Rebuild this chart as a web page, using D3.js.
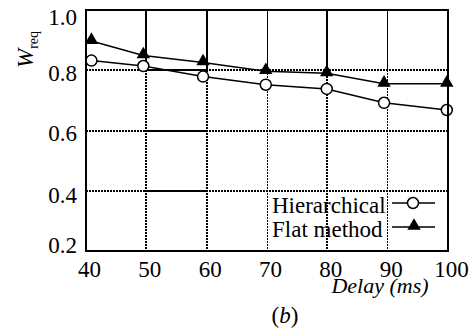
<!DOCTYPE html>
<html>
<head>
<meta charset="utf-8">
<script src="https://cdn.jsdelivr.net/npm/d3@7"></script>
<style>
  body { margin: 0; background: #fff; }
  svg { display: block; }
  svg text { font-family: "Liberation Serif", "Times New Roman", Times, "DejaVu Serif", serif !important; fill: #000; }
</style>
</head>
<body>
<svg id="chart" width="473" height="331"></svg>
<script>
// values
const delays = [40, 50, 60, 70, 80, 90, 100];
// marker positions as drawn (slightly off the ticks in the original)
const markerDelays = [40.9, 49.5, 59.4, 69.8, 79.9, 89.4, 99.8];
const hierarchical = [0.832, 0.814, 0.779, 0.752, 0.738, 0.692, 0.668];
const flatMethod = [0.897, 0.849, 0.826, 0.797, 0.790, 0.755, 0.755];
const yTicks = [0.2, 0.4, 0.6, 0.8, 1.0];
const gridY = [0.4, 0.6, 0.8];
const gridX = [50, 60, 70, 80, 90];
const seriesNames = ["Hierarchical", "Flat method"];

const plotLeft = 86, plotRight = 448, plotTop = 10, plotBottom = 251;
const serif = "'Liberation Serif', 'Times New Roman', Times, 'DejaVu Serif', serif";

const svg = d3.select("#chart").attr("font-family", serif);

const x = d3.scaleLinear().domain([40, 100]).range([plotLeft, plotRight]);
const y = d3.scaleLinear().domain([0.2, 1.0]).range([plotBottom, plotTop]);

const grid = svg.append("g").attr("shape-rendering", "crispEdges");

// vertical grid: solid above 0.8, dotted below
grid.selectAll(".vtop")
    .data(gridX)
    .enter().append("line")
    .attr("x1", d => x(d)).attr("x2", d => x(d))
    .attr("y1", y(1.0)).attr("y2", y(0.8))
    .attr("stroke", "#000")
    .attr("stroke-width", d => (d === 70 || d === 90) ? 1 : 2);

grid.selectAll(".vbot")
    .data(gridX)
    .enter().append("line")
    .attr("x1", d => x(d)).attr("x2", d => x(d))
    .attr("y1", y(0.8)).attr("y2", y(0.2))
    .attr("stroke", "#000")
    .attr("stroke-width", d => (d === 70 || d === 90) ? 1 : 2)
    .attr("stroke-dasharray", "2,1");

grid.selectAll(".h")
    .data(gridY)
    .enter().append("line")
    .attr("x1", plotLeft).attr("x2", plotRight)
    .attr("y1", d => y(d)).attr("y2", d => y(d))
    .attr("stroke", "#000")
    .attr("stroke-width", 2)
    .attr("stroke-dasharray", "2,1");

// solid pieces between 50 and 60
grid.selectAll(".hs")
    .data(gridY)
    .enter().append("line")
    .attr("x1", x(50)).attr("x2", x(60))
    .attr("y1", d => y(d)).attr("y2", d => y(d))
    .attr("stroke", "#000")
    .attr("stroke-width", 2);

// series lines
const line = d3.line()
    .x((d, i) => x(markerDelays[i]))
    .y(d => y(d));

svg.append("path")
    .datum(hierarchical)
    .attr("d", line)
    .attr("fill", "none")
    .attr("stroke", "#000")
    .attr("stroke-width", 1.5);

svg.append("path")
    .datum(flatMethod)
    .attr("d", line)
    .attr("fill", "none")
    .attr("stroke", "#000")
    .attr("stroke-width", 1.5);

const tri = d3.symbol().type(d3.symbolTriangle).size(78);

svg.selectAll(".tri")
    .data(flatMethod)
    .enter().append("path")
    .attr("d", tri)
    .attr("transform", (d, i) => `translate(${x(markerDelays[i])},${y(d) - 1})`)
    .attr("fill", "#000");

svg.selectAll(".circ")
    .data(hierarchical)
    .enter().append("circle")
    .attr("cx", (d, i) => x(markerDelays[i]))
    .attr("cy", d => y(d))
    .attr("r", 5.5)
    .attr("fill", "#fff")
    .attr("stroke", "#000")
    .attr("stroke-width", 1.5);

// frame
svg.append("rect")
    .attr("x", plotLeft).attr("y", plotTop)
    .attr("width", plotRight - plotLeft).attr("height", plotBottom - plotTop)
    .attr("fill", "none")
    .attr("stroke", "#000")
    .attr("stroke-width", 2.5)
    .attr("shape-rendering", "crispEdges");

// axes (labels only)
const yNudge = { "1.0": 7, "0.8": 3, "0.6": 3, "0.4": 4, "0.2": -6 };

const yAxis = svg.append("g")
    .attr("transform", `translate(${plotLeft - 9},0)`)
    .call(d3.axisLeft(y).tickValues(yTicks).tickSize(0).tickPadding(0).tickFormat(d3.format(".1f")));
yAxis.attr("font-family", serif).attr("font-size", 23);
yAxis.select(".domain").remove();
yAxis.selectAll("text")
    .attr("fill", "#000")
    .attr("y", d => yNudge[d3.format(".1f")(d)]);

const xAxis = svg.append("g")
    .attr("transform", `translate(3,${plotBottom})`)
    .call(d3.axisBottom(x).tickValues(delays).tickSize(0).tickPadding(0).tickFormat(d3.format("d")));
xAxis.attr("font-family", serif).attr("font-size", 23);
xAxis.select(".domain").remove();
xAxis.selectAll("text")
    .attr("fill", "#000")
    .attr("dy", null)
    .attr("y", 26);

// axis titles
const yTitle = svg.append("text")
    .attr("transform", "translate(33,68) rotate(-90)")
    .attr("font-size", 23);
yTitle.append("tspan").attr("font-style", "italic").text("W");
yTitle.append("tspan").attr("font-size", 14).attr("dy", 5).text("req");

svg.append("text")
    .attr("x", 380).attr("y", 293)
    .attr("text-anchor", "middle")
    .attr("font-size", 22)
    .attr("font-style", "italic")
    .text("Delay (ms)");

const cap = svg.append("text")
    .attr("x", 285).attr("y", 323)
    .attr("text-anchor", "middle")
    .attr("font-size", 23);
cap.append("tspan").text("(");
cap.append("tspan").attr("font-style", "italic").text("b");
cap.append("tspan").text(")");

// legend
const legend = svg.append("g");
const legY = [203, 227];

legend.selectAll("text")
    .data(seriesNames)
    .enter().append("text")
    .attr("x", 272)
    .attr("y", (d, i) => legY[i] + 5)
    .attr("font-size", 23)
    .attr("dominant-baseline", "middle")
    .text(d => d);

legend.selectAll("line")
    .data(seriesNames)
    .enter().append("line")
    .attr("x1", 392).attr("x2", 435)
    .attr("y1", (d, i) => legY[i]).attr("y2", (d, i) => legY[i])
    .attr("stroke", "#000")
    .attr("stroke-width", 1.5);

legend.append("circle")
    .attr("cx", 413).attr("cy", legY[0])
    .attr("r", 5.5)
    .attr("fill", "#fff")
    .attr("stroke", "#000")
    .attr("stroke-width", 1.5);

legend.append("path")
    .attr("d", tri)
    .attr("transform", `translate(414,${legY[1] - 1})`)
    .attr("fill", "#000");
</script>
</body>
</html>
